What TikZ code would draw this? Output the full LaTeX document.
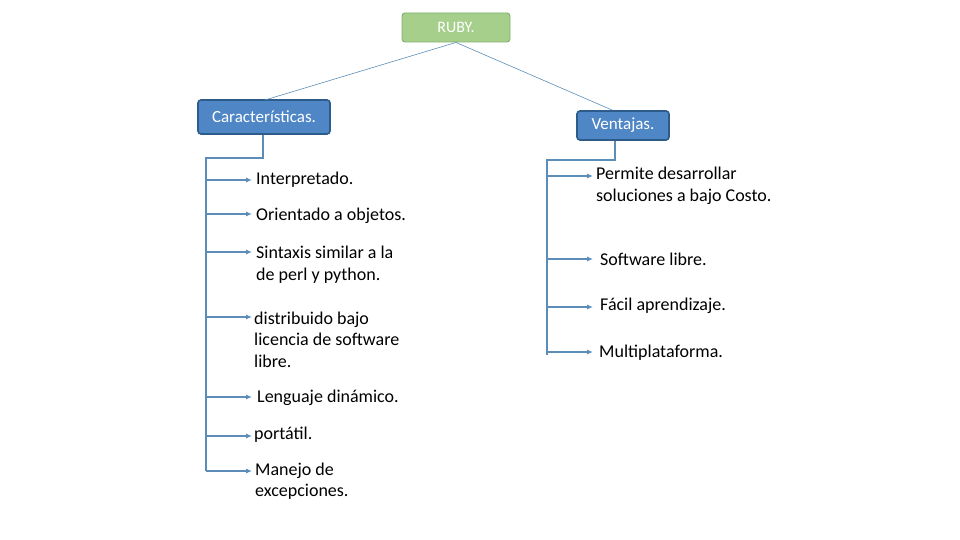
\documentclass[tikz,border=0pt]{standalone}
\usepackage{fontspec}
\setmainfont{Carlito}
\usetikzlibrary{arrows.meta}
\definecolor{ln}{HTML}{5B8DB8}
\definecolor{bfill}{HTML}{4F86C6}
\definecolor{bdraw}{HTML}{2E5C8A}
\definecolor{gfill}{HTML}{A6CF8C}
\definecolor{gdraw}{HTML}{7FAF6A}
\begin{document}
\begin{tikzpicture}[x=1pt,y=-1pt,
  conn/.style={draw=ln,line width=1.1pt},
  arr/.style={conn,-{Latex[length=6pt,width=5pt]}},
  bluebox/.style={draw=bdraw,line width=1.6pt,fill=bfill,rounded corners=3pt,text=white,font=\fontsize{17}{20}\selectfont},
  txt/.style={anchor=west,align=left,font=\fontsize{18}{21.5}\selectfont,inner sep=0pt}]
\path[use as bounding box] (0,0) rectangle (960,540);
\node[draw=gdraw,fill=gfill,line width=0.9pt,rounded corners=3pt,text=white,minimum width=108pt,minimum height=29pt,font=\fontsize{16}{18}\selectfont] (ruby) at (456,27.5) {RUBY.};
\node[bluebox,minimum width=132pt,minimum height=34pt] (car) at (264,117) {Características.};
\node[bluebox,minimum width=92pt,minimum height=29pt] (ven) at (623,125.5) {Ventajas.};
\draw[conn,line width=0.6pt] (ruby.south) -- (265,100);
\draw[conn,line width=0.6pt] (ruby.south) -- (612,110);
\coordinate (lt) at (206,158);
\coordinate (lb) at (206,471);
\draw[conn] (car.south -| 263,0) -- (263,158) -- (lt) -- (lb);
\foreach \y in {180,214,252,317,397,436,471}{\draw[arr] (206,\y) -- (252,\y);}
\node[txt] (t1) at (256,180) {Interpretado.};
\node[txt] (t2) at (256,216) {Orientado a objetos.};
\node[txt] (t3) at (256,264.5) {Sintaxis similar a la\\de perl y python.};
\node[txt] (t4) at (254,339.5) {distribuido bajo\\licencia de software\\libre.};
\node[txt] (t5) at (257,398) {Lenguaje dinámico.};
\node[txt] (t6) at (254,435) {portátil.};
\node[txt] (t7) at (255,481) {Manejo de\\excepciones.};
\draw[conn] (ven.south -| 615,0) -- (615,160) -- (547,160) -- (547,355);
\foreach \y in {176,259,307,352}{\draw[arr] (547,\y) -- (593,\y);}
\node[txt] (r1) at (596,186) {Permite desarrollar\\soluciones a bajo Costo.};
\node[txt] (r2) at (600,259) {Software libre.};
\node[txt] (r3) at (600,306) {Fácil aprendizaje.};
\node[txt] (r4) at (599,353) {Multiplataforma.};
\end{tikzpicture}
\end{document}
